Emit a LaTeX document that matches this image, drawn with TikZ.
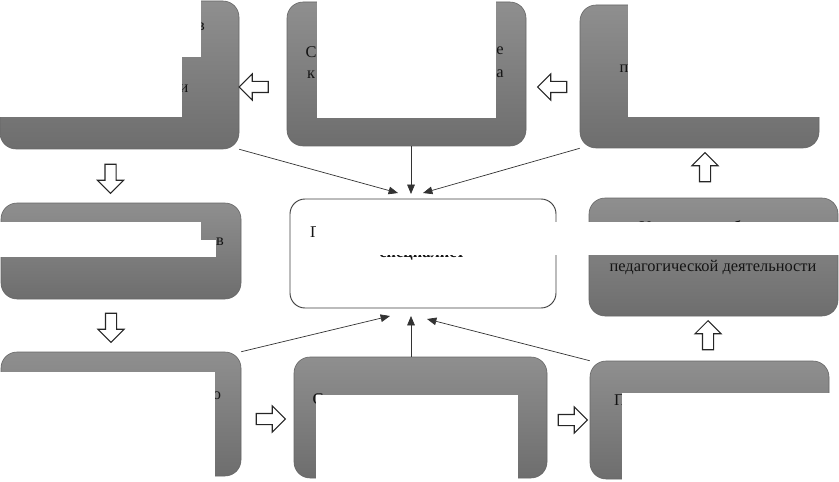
\documentclass[tikz,border=0pt]{standalone}
\usepackage{fontspec}
\setmainfont{Liberation Serif}
\usetikzlibrary{positioning,arrows.meta,shapes.arrows}
\newcommand{\pxu}{0.03cm}
\tikzset{
  greybox/.style={draw=black!60, line width=0.5pt, top color=black!44, bottom color=black!57,
    rounded corners=0.48cm, inner sep=0pt},
  mainbox/.style={draw=black!75, line width=0.8pt, fill=white, rounded corners=0.45cm, inner sep=0pt},
  cover/.style={fill=white},
  txt/.style={font=\fontsize{14}{16}\selectfont, text=black!92, inner sep=0pt},
  blockarr/.style={single arrow, draw=black!85, fill=white, line width=0.9pt,
    minimum height=29*\pxu, inner xsep=0pt, inner ysep=5*\pxu,
    single arrow head extend=7.5*\pxu},
  link/.style={draw=black!80, line width=0.6pt, -{Triangle[length=8pt,width=6.5pt]}},
}
\begin{document}
\begin{tikzpicture}[x=\pxu, y=-\pxu]
\useasboundingbox (0,0) rectangle (839,482);
% --- grey boxes ---
\node[greybox, minimum width=239*\pxu, minimum height=148*\pxu] (tl) at (119.5,75) {};
\node[greybox, minimum width=239*\pxu, minimum height=144*\pxu] (tm) at (406.5,74) {};
\node[greybox, minimum width=239*\pxu, minimum height=143*\pxu] (tr) at (699.5,76.5) {};
\node[greybox, minimum width=240*\pxu, minimum height=96*\pxu] (ml) at (121,251) {};
\node[greybox, minimum width=249*\pxu, minimum height=118*\pxu] (mr) at (713.5,257) {};
\node[greybox, minimum width=240*\pxu, minimum height=124*\pxu] (bl) at (121,414) {};
\node[greybox, minimum width=253*\pxu, minimum height=121*\pxu] (bm) at (420.5,417.5) {};
\node[greybox, minimum width=239*\pxu, minimum height=118*\pxu] (br) at (709.5,420) {};
% --- centre ---
\node[mainbox, minimum width=266*\pxu, minimum height=109*\pxu] (ctr) at (423,253.5) {};
% --- texts ---
\node[txt] (tl1) at (201,27) {в};
\node[txt] (tl2) at (184,89) {и};
\node[txt] (tm1) at (311,52) {С};
\node[txt] (tm2) at (500,51) {е};
\node[txt] (tm3) at (311,75) {к};
\node[txt] (tm4) at (500,74) {а};
\node[txt] (tr1) at (624,69) {п};
\node[txt] (ml1) at (220,242) {в};
\node[txt] (ctr1) at (316,232) {П};
\node[txt, font=\fontsize{14}{16}\selectfont\bfseries] (ctr2) at (422,255) {специалист};
\node[txt] (mr1) at (645,227) {У};
\node[txt] (mr2) at (737,227) {б};
\node[txt] (mr3) at (713,267) {педагогической деятельности};
\node[txt] (bl1) at (45,378) {С};
\node[txt] (bl2) at (217,396) {о};
\node[txt] (bm1) at (318,399) {С};
\node[txt] (bm2) at (490,400) {с};
\node[txt] (br1) at (620,400) {П};
% --- white covers ---
\fill[cover] (0,0) rectangle (201,57);
\fill[cover] (0,0) rectangle (182,117);
\fill[cover] (317,0) rectangle (496,118);
\fill[cover] (628,0) rectangle (839,117);
\fill[cover] (0,222) rectangle (201,240);
\fill[cover] (0,240) rectangle (216,257);
\fill[cover] (316,222) rectangle (839,255);
\fill[cover] (0,372) rectangle (215,482);
\fill[cover] (316,395) rectangle (518,482);
\fill[cover] (622,393) rectangle (839,482);
% --- block arrows ---
\node[blockarr, rotate=180] (a1) at (256.5,87) {};
\node[blockarr, rotate=180] (a2) at (555,87) {};
\node[blockarr, rotate=-90] (a3) at (110.5,176) {};
\node[blockarr, rotate=-90] (a4) at (111,325) {};
\node[blockarr] (a5) at (268,419) {};
\node[blockarr] (a6) at (570,420) {};
\node[blockarr, rotate=90] (a7) at (708,338) {};
\node[blockarr, rotate=90] (a8) at (705,170) {};
% --- links to centre ---
\coordinate (c1) at (398,193);
\coordinate (c2) at (411,194);
\coordinate (c3) at (423,193);
\coordinate (c4) at (390,316);
\coordinate (c5) at (411,316);
\coordinate (c6) at (427,319);
\draw[link] (tl.south east) -- (c1);
\draw[link] (tm.south -| c2) -- (c2);
\draw[link] (tr.south west) -- (c3);
\draw[link] (bl.north east) -- (c4);
\draw[link] (bm.north -| c5) -- (c5);
\draw[link] (br.north west) -- (c6);
\end{tikzpicture}
\end{document}
